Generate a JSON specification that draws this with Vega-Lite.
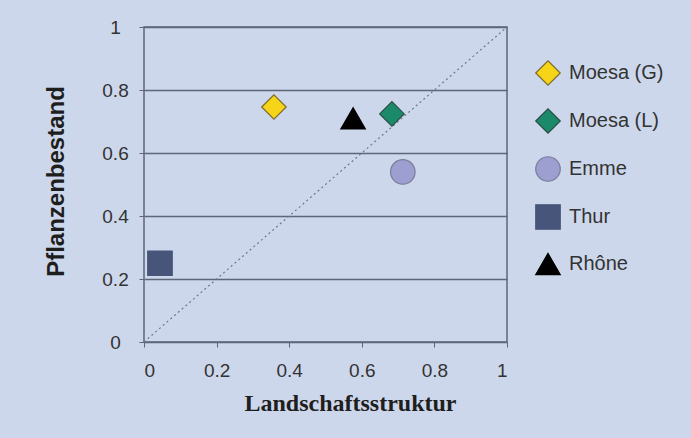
{
  "$schema": "https://vega.github.io/schema/vega-lite/v6.json",
  "autosize": {"type": "none"},
  "width": 363,
  "height": 315,
  "padding": {"left": 144, "top": 27, "right": 184, "bottom": 96},
  "background": "#cdd7eb",
  "config": {
    "view": {"stroke": "#5e6679", "strokeWidth": 1.5, "fill": "#cdd7eb"},
    "axis": {
      "labelFont": "Liberation Sans",
      "labelFontSize": 19,
      "labelColor": "#333333",
      "tickColor": "#5e6679",
      "tickSize": 5,
      "domain": false,
      "format": ".1~f"
    },
    "legend": {
      "labelFont": "Liberation Sans",
      "labelFontSize": 20,
      "labelColor": "#333333"
    }
  },
  "datasets": {
    "rivers": [
      {"river": "Moesa (G)", "landschaft": 0.358, "pflanzen": 0.746},
      {"river": "Moesa (L)", "landschaft": 0.683, "pflanzen": 0.724},
      {"river": "Emme", "landschaft": 0.713, "pflanzen": 0.54},
      {"river": "Thur", "landschaft": 0.044, "pflanzen": 0.25},
      {"river": "Rhône", "landschaft": 0.576, "pflanzen": 0.71}
    ],
    "diagonal": [
      {"landschaft": 0, "pflanzen": 0},
      {"landschaft": 1, "pflanzen": 1}
    ]
  },
  "layer": [
    {
      "data": {"name": "diagonal"},
      "mark": {"type": "line", "color": "#6f7789", "strokeWidth": 1.2, "strokeDash": [2, 3]},
      "encoding": {
        "x": {
          "field": "landschaft", "type": "quantitative",
          "scale": {"domain": [0, 1], "nice": false},
          "axis": {
            "values": [0, 0.2, 0.4, 0.6, 0.8, 1],
            "grid": false,
            "labelBaseline": "middle",
            "labelPadding": 23,
            "title": "Landschaftsstruktur",
            "titleFont": "Liberation Serif",
            "titleFontSize": 24,
            "titleFontWeight": "bold",
            "titleColor": "#1e1e1e",
            "titleX": 206,
            "titleY": 61,
            "titleBaseline": "middle"
          }
        },
        "y": {
          "field": "pflanzen", "type": "quantitative",
          "scale": {"domain": [0, 1], "nice": false},
          "axis": {
            "values": [0, 0.2, 0.4, 0.6, 0.8, 1],
            "grid": true,
            "gridColor": "#5e6679",
            "gridWidth": 1.5,
            "gridOpacity": 1,
            "labelAlign": "center",
            "labelPadding": 24,
            "title": "Pflanzenbestand",
            "titleFont": "Liberation Sans",
            "titleFontSize": 24,
            "titleFontWeight": "bold",
            "titleColor": "#1e1e1e",
            "titleX": -88,
            "titleY": 154,
            "titleBaseline": "middle"
          }
        }
      }
    },
    {
      "data": {"name": "rivers"},
      "mark": {"type": "point", "filled": true, "opacity": 1, "strokeWidth": 1.2},
      "encoding": {
        "x": {"field": "landschaft", "type": "quantitative"},
        "y": {"field": "pflanzen", "type": "quantitative"},
        "shape": {
          "field": "river", "type": "nominal",
          "scale": {
            "domain": ["Moesa (G)", "Moesa (L)", "Emme", "Thur", "Rhône"],
            "range": ["diamond", "diamond", "circle", "square", "triangle-up"]
          },
          "legend": {
            "title": null,
            "orient": "none",
            "legendX": 391,
            "legendY": 33,
            "symbolStrokeWidth": 1.2,
            "symbolOpacity": 1,
            "labelOffset": 8,
            "rowPadding": 18
          }
        },
        "size": {
          "field": "river", "type": "nominal",
          "scale": {
            "domain": ["Moesa (G)", "Moesa (L)", "Emme", "Thur", "Rhône"],
            "range": [600, 600, 400, 520, 600]
          }
        },
        "fill": {
          "field": "river", "type": "nominal",
          "scale": {
            "domain": ["Moesa (G)", "Moesa (L)", "Emme", "Thur", "Rhône"],
            "range": ["#f6d417", "#1b8a6b", "#9c9fcf", "#465579", "#000000"]
          }
        },
        "stroke": {
          "field": "river", "type": "nominal",
          "scale": {
            "domain": ["Moesa (G)", "Moesa (L)", "Emme", "Thur", "Rhône"],
            "range": ["#7d6b2a", "#2a4d44", "#7a7d9a", "#465579", "#000000"]
          }
        }
      }
    }
  ]
}
